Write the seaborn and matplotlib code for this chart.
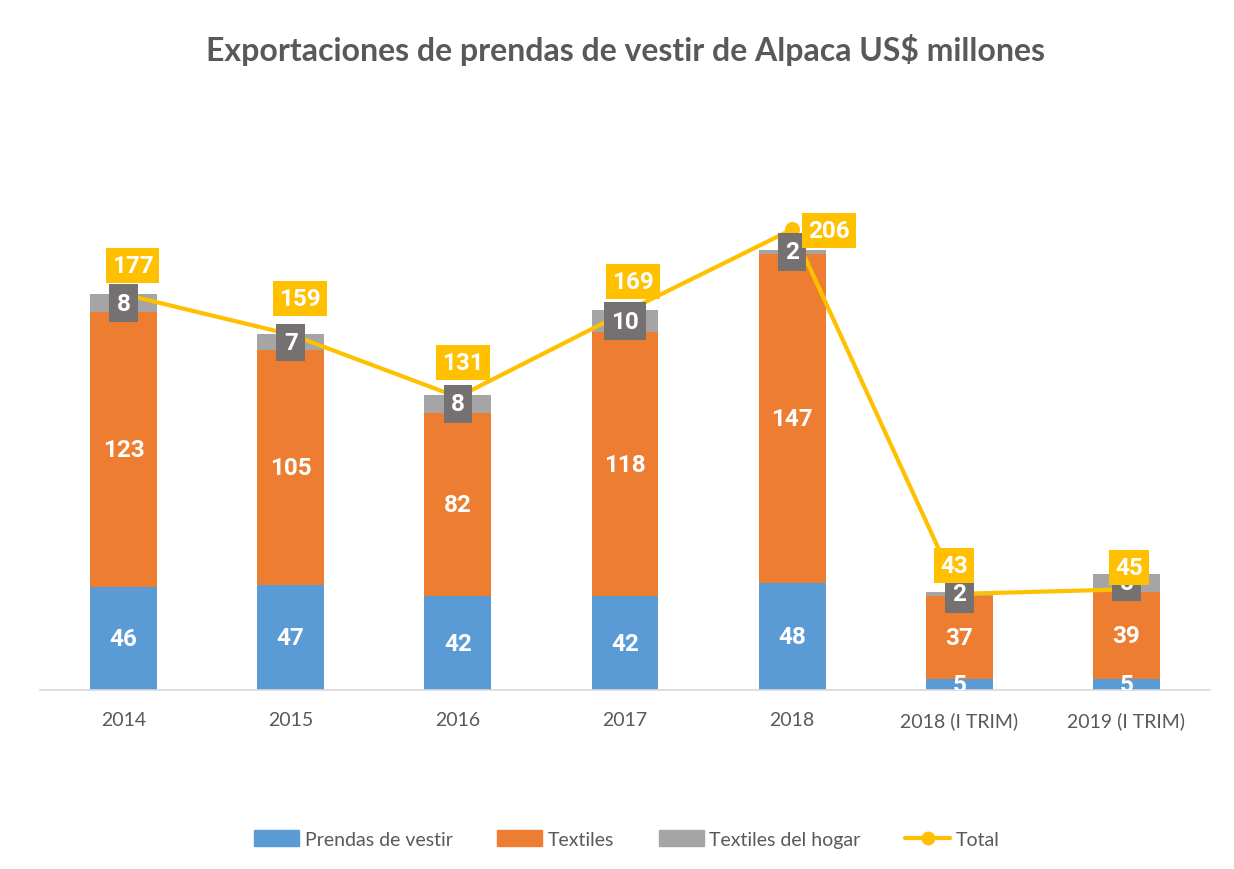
import numpy as np
import pandas as pd
import matplotlib
matplotlib.use("Agg")
import matplotlib.pyplot as plt
from matplotlib.patches import Patch
from matplotlib.lines import Line2D
import seaborn as sns

categories = ["2014", "2015", "2016", "2017", "2018", "2018 (I TRIM)", "2019 (I TRIM)"]
prendas = [46, 47, 42, 42, 48, 5, 5]
textiles = [123, 105, 82, 118, 147, 37, 39]
hogar = [8, 7, 8, 10, 2, 2, 8]
total = [177, 159, 131, 169, 206, 43, 45]

# label offsets (pixels) for total boxes
tot_off = [(9, 29), (9, 36), (5, 35), (8, 31), (37, -1), (-5, 28), (3, 22)]

BLUE = "#5B9BD5"
ORANGE = "#ED7D31"
GRAY = "#A5A5A5"
YELLOW = "#FFC000"
DGRAY = "#767171"

sns.set_style("white")
plt.rcParams["font.family"] = ["Lato", "DejaVu Sans"]
NARROW = ["Liberation Sans Narrow", "Roboto", "DejaVu Sans"]

df = pd.DataFrame({"cat": categories, "p": prendas, "t": textiles, "h": hogar, "tot": total})
df["c2"] = df["p"] + df["t"]
df["c3"] = df["c2"] + df["h"]

fig = plt.figure(figsize=(12.34, 8.7), dpi=100)
ax = fig.add_axes([40 / 1234, 1 - 691 / 870, 1170 / 1234, 559 / 870])

bar_kw = dict(width=0.4, saturation=1, ax=ax, order=categories, zorder=2, linewidth=0, edgecolor="none")
sns.barplot(data=df, x="cat", y="c3", color=GRAY, **bar_kw)
sns.barplot(data=df, x="cat", y="c2", color=ORANGE, **bar_kw)
sns.barplot(data=df, x="cat", y="p", color=BLUE, **bar_kw)

xs = np.arange(len(categories))
sns.lineplot(x=xs, y=df["tot"].values, color=YELLOW, lw=3, marker="o", markersize=10,
             markeredgecolor=YELLOW, sort=False, ax=ax, zorder=4)

ax.set_xlim(-0.5, len(categories) - 0.5)
ax.set_ylim(0, 250)
ax.set_xlabel("")
ax.set_ylabel("")
ax.set_yticks([])
for s in ["top", "right", "left"]:
    ax.spines[s].set_visible(False)
ax.spines["bottom"].set_color("#D9D9D9")
ax.spines["bottom"].set_linewidth(1.2)
ax.tick_params(axis="x", length=0, pad=15, labelsize=14, labelcolor="#595959")

lab_kw = dict(ha="center", va="center", color="white", fontweight="bold", fontsize=17.5, family=NARROW)
for i in range(len(categories)):
    ax.text(i, prendas[i] / 2, str(prendas[i]), zorder=6, clip_on=True, **lab_kw)
    ax.text(i, prendas[i] + textiles[i] / 2, str(textiles[i]), zorder=6, **lab_kw)
    ax.text(i, prendas[i] + textiles[i] + hogar[i] / 2, str(hogar[i]), zorder=7,
            bbox=dict(boxstyle="square,pad=0.3", fc=DGRAY, ec="none"), **lab_kw)
    ax.annotate(str(total[i]), (i, total[i]), xytext=(tot_off[i][0] * 0.72, tot_off[i][1] * 0.72),
                textcoords="offset points", zorder=8,
                bbox=dict(boxstyle="square,pad=0.25", fc=YELLOW, ec="none"), **lab_kw)

fig.text(625 / 1234, 1 - 50 / 870, "Exportaciones de prendas de vestir de Alpaca US$ millones",
         ha="center", va="center", fontsize=23, fontweight="bold", color="#595959")

handles = [Patch(color=BLUE), Patch(color=ORANGE), Patch(color=GRAY),
           Line2D([0], [0], color=YELLOW, lw=3, marker="o", markersize=9)]
labels = ["Prendas de vestir", "Textiles", "Textiles del hogar", "Total"]
fig.legend(handles, labels, loc="center", bbox_to_anchor=(627 / 1234, 1 - 840 / 870), ncol=4,
           frameon=False, fontsize=14, labelcolor="#595959", handlelength=2.3, handleheight=0.9,
           columnspacing=2.3, handletextpad=0.3)

fig.savefig("out.png", dpi=100)
